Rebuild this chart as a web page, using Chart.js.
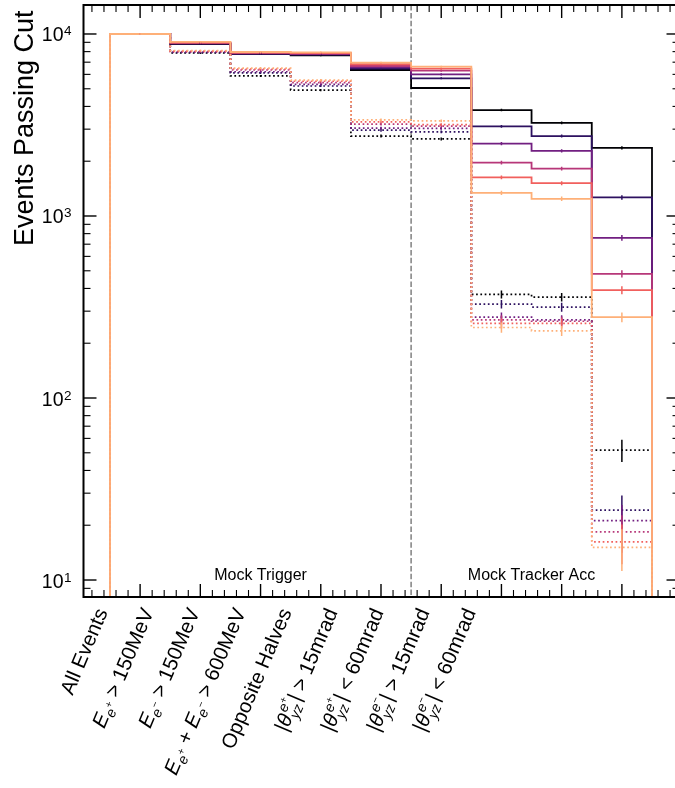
<!DOCTYPE html>
<html>
<head>
<meta charset="utf-8">
<script src="https://cdn.jsdelivr.net/npm/chart.js@4.4.1/dist/chart.umd.min.js"></script>
<style>
  html, body { margin: 0; padding: 0; background: #fff; }
  #wrap { width: 675px; height: 788px; }
</style>
</head>
<body>
<div id="wrap"><canvas id="cutflow" width="675" height="788"></canvas></div>
<script>
// Libellés des coupures (un par bin), avec indices / exposants
const cutLabels = [
    [{ t: 'All Events' }],
    [{ t: 'E', s: 'i' }, { t: 'e', s: 'sub' }, { t: '+', s: 'subsup' }, { t: ' > 150MeV' }],
    [{ t: 'E', s: 'i' }, { t: 'e', s: 'sub' }, { t: '\u2212', s: 'subsup' }, { t: ' > 150MeV' }],
    [{ t: 'E', s: 'i' }, { t: 'e', s: 'sub' }, { t: '+', s: 'subsup' }, { t: ' + ' },
     { t: 'E', s: 'i' }, { t: 'e', s: 'sub' }, { t: '\u2212', s: 'subsup' }, { t: ' > 600MeV' }],
    [{ t: 'Opposite Halves' }],
    [{ t: '|' }, { t: '\u03b8', s: 'i' }, { sup: 'e', supsup: '+', sub: 'yz' }, { t: '|' }, { t: ' > 15mrad' }],
    [{ t: '|' }, { t: '\u03b8', s: 'i' }, { sup: 'e', supsup: '+', sub: 'yz' }, { t: '|' }, { t: ' < 60mrad' }],
    [{ t: '|' }, { t: '\u03b8', s: 'i' }, { sup: 'e', supsup: '\u2212', sub: 'yz' }, { t: '|' }, { t: ' > 15mrad' }],
    [{ t: '|' }, { t: '\u03b8', s: 'i' }, { sup: 'e', supsup: '\u2212', sub: 'yz' }, { t: '|' }, { t: ' < 60mrad' }]
];

// Une couleur par configuration (palette magma)
const seriesColors = ['#000004', '#2d1160', '#721f81', '#b73779', '#f1605d', '#feb078'];

// Evénements passant chaque coupure - traits pleins
const solidCounts = [
    [10000, 8810, 7750, 7640, 6340, 5050, 3820, 3245, 2370],
    [10000, 8850, 7790, 7700, 6450, 5710, 3110, 2750, 1266],
    [10000, 8890, 7830, 7760, 6560, 6000, 2500, 2280, 759],
    [10000, 8930, 7870, 7810, 6670, 6290, 1965, 1820, 481],
    [10000, 8970, 7910, 7860, 6820, 6450, 1630, 1515, 391],
    [10000, 9040, 7960, 7920, 6960, 6610, 1340, 1243, 278]
];
const solidErrors = [
    [100, 94, 88, 87, 80, 71, 62, 57, 49],
    [100, 94, 88, 88, 80, 76, 56, 52, 36],
    [100, 94, 88, 88, 81, 77, 50, 48, 28],
    [100, 94, 89, 88, 82, 79, 44, 43, 22],
    [100, 95, 89, 89, 83, 80, 40, 39, 20],
    [100, 95, 89, 89, 83, 81, 37, 35, 17]
];

// Evénements passant chaque coupure - pointillés
const dottedCounts = [
    [10000, 7860, 5880, 4920, 2750, 2650, 371, 358, 51.7],
    [10000, 7910, 6110, 5180, 2960, 2900, 328, 316, 24.2],
    [10000, 7960, 6200, 5280, 3040, 3030, 278, 269, 21.2],
    [10000, 8010, 6340, 5400, 3200, 3120, 269, 264, 18.4],
    [10000, 8060, 6420, 5500, 3290, 3180, 257, 257, 16.2],
    [10000, 8110, 6500, 5580, 3370, 3330, 244, 234, 15.1]
];
const dottedErrors = [
    [100, 89, 77, 70, 52, 51, 19, 19, 7.2],
    [100, 89, 78, 72, 54, 54, 18, 18, 4.9],
    [100, 89, 79, 73, 55, 55, 17, 16, 4.6],
    [100, 89, 80, 73, 57, 56, 16, 16, 4.3],
    [100, 90, 80, 74, 57, 56, 16, 16, 4.0],
    [100, 90, 81, 75, 58, 58, 16, 15, 3.9]
];

// Séparation trigger / tracker et textes des régions
const regionNames = ['Mock Trigger', 'Mock Tracker Acc'];
const regionCenters = [2, 6.5];
const regionSplit = 4.5;
const regionTextY = 10;

const histFloor = 1; // base de l'histogramme (sous l'axe log)
const FONT = '"Liberation Sans", Arial, Helvetica, sans-serif';

// placement des libellés de coupure (en unités de bin)
const labelStart = -0.533;
const labelStep = 0.764;
const rightSpine = 8.957; // axe de droite, juste hors du cadre

// Points en escalier : bords des bins
function stepPoints(counts) {
    const pts = [{ x: -0.5, y: histFloor }];
    counts.forEach((v, i) => pts.push({ x: i - 0.5, y: v }));
    pts.push({ x: counts.length - 0.5, y: histFloor });
    return pts;
}

// Ordre de dessin : pour chaque couleur, trait plein puis pointillé
const series = [];
seriesColors.forEach((c, k) => {
    series.push({ color: c, counts: solidCounts[k], errors: solidErrors[k], dotted: false });
    series.push({ color: c, counts: dottedCounts[k], errors: dottedErrors[k], dotted: true });
});

const datasets = series.map((s, idx) => ({
    data: stepPoints(s.counts),
    borderColor: s.color,
    borderWidth: s.dotted ? 1.7 : 1.8,
    borderDash: s.dotted ? [1.7, 2.6] : [],
    borderCapStyle: 'butt',
    stepped: 'before',
    pointRadius: 0,
    fill: false,
    order: series.length - idx
}));

// Texte avec indices / exposants (façon mathtext)
function layoutRich(ctx, tokens, size) {
    const fnt = (it, sz) => (it ? 'italic ' : '') + sz.toFixed(1) + 'px ' + FONT;
    const pieces = [];
    let x = 0;
    for (const tk of tokens) {
        if (tk.sup !== undefined) {
            const f1 = fnt(true, size * 0.7), f2 = fnt(false, size * 0.5);
            ctx.font = f1;
            const wSup = ctx.measureText(tk.sup).width;
            const wSub = ctx.measureText(tk.sub).width;
            ctx.font = f2;
            const wSs = ctx.measureText(tk.supsup).width;
            pieces.push({ t: tk.sup, f: f1, x: x + size * 0.08, y: -size * 0.4 });
            pieces.push({ t: tk.supsup, f: f2, x: x + size * 0.08 + wSup, y: -size * 0.62 });
            pieces.push({ t: tk.sub, f: f1, x: x, y: size * 0.26 });
            x += Math.max(wSup + wSs + size * 0.08, wSub) + size * 0.05;
        } else {
            let f, dy = 0;
            if (tk.s === 'sub') { f = fnt(true, size * 0.7); dy = size * 0.22; }
            else if (tk.s === 'subsup') { f = fnt(false, size * 0.5); dy = -size * 0.1; }
            else f = fnt(tk.s === 'i', size);
            ctx.font = f;
            pieces.push({ t: tk.t, f: f, x: x, y: dy });
            x += ctx.measureText(tk.t).width;
        }
    }
    return { pieces, width: x };
}

const frameAndText = {
    id: 'frameAndText',
    beforeDatasetsDraw(chart) {
        const { ctx, chartArea: a, scales: { x, y } } = chart;
        ctx.save();
        // ligne de séparation
        const xs = x.getPixelForValue(regionSplit);
        ctx.strokeStyle = '#808080';
        ctx.lineWidth = 1.5;
        ctx.setLineDash([5.5, 2.4]);
        ctx.beginPath();
        ctx.moveTo(xs, a.top);
        ctx.lineTo(xs, a.bottom);
        ctx.stroke();
        ctx.setLineDash([]);
        ctx.fillStyle = '#000';
        ctx.font = '16px ' + FONT;
        ctx.textAlign = 'center';
        ctx.textBaseline = 'alphabetic';
        regionNames.forEach((n, i) => {
            ctx.fillText(n, x.getPixelForValue(regionCenters[i]), y.getPixelForValue(regionTextY));
        });
        ctx.restore();
    },
    afterDatasetsDraw(chart) {
        const { ctx, chartArea: a, scales: { x, y } } = chart;
        ctx.save();
        ctx.beginPath();
        ctx.rect(a.left, a.top, a.right - a.left, a.bottom - a.top);
        ctx.clip();
        // barres d'erreur au centre des bins
        ctx.lineWidth = 1.5;
        series.forEach(s => {
            ctx.strokeStyle = s.color;
            s.counts.forEach((v, i) => {
                const px = x.getPixelForValue(i);
                ctx.beginPath();
                ctx.moveTo(px, y.getPixelForValue(v - s.errors[i]));
                ctx.lineTo(px, y.getPixelForValue(v + s.errors[i]));
                ctx.stroke();
            });
        });
        ctx.restore();

        ctx.save();
        const xr = x.getPixelForValue(rightSpine);
        // cadre
        ctx.strokeStyle = '#000';
        ctx.lineWidth = 2;
        ctx.beginPath();
        ctx.moveTo(xr, a.top);
        ctx.lineTo(a.left, a.top);
        ctx.lineTo(a.left, a.bottom);
        ctx.lineTo(xr, a.bottom);
        ctx.stroke();

        // graduations vers l'intérieur
        const tick = (x0, y0, x1, y1, w) => {
            ctx.lineWidth = w;
            ctx.beginPath();
            ctx.moveTo(x0, y0);
            ctx.lineTo(x1, y1);
            ctx.stroke();
        };
        const MAJ = 13, MIN = 7;
        for (let k = -4; k <= 44; k++) {
            const v = k * 0.2;
            if (v < x.min || v > x.max) continue;
            const px = x.getPixelForValue(v);
            const major = k % 5 === 0;
            const L = major ? MAJ : MIN, w = major ? 1.4 : 1.1;
            tick(px, a.bottom, px, a.bottom - L, w);
            tick(px, a.top, px, a.top + L, w);
        }
        for (let d = 0; d <= 4; d++) {
            for (let m = 1; m <= 9; m++) {
                const v = m * Math.pow(10, d);
                if (v < y.min || v > y.max) continue;
                const py = y.getPixelForValue(v);
                const L = m === 1 ? MAJ : MIN, w = m === 1 ? 1.4 : 1.1;
                tick(a.left, py, a.left + L, py, w);
                tick(xr, py, xr - L, py, w);
            }
        }

        // étiquettes de l'axe y : 10^n
        ctx.fillStyle = '#000';
        ctx.textBaseline = 'alphabetic';
        for (let d = 1; d <= 4; d++) {
            const py = y.getPixelForValue(Math.pow(10, d));
            const xl = a.left - 20;
            ctx.font = '19.5px ' + FONT;
            ctx.textAlign = 'right';
            ctx.fillText('10', xl, py + 7.5);
            ctx.font = '13.5px ' + FONT;
            ctx.textAlign = 'left';
            ctx.fillText(String(d), xl + 0.5, py + 1.5);
        }

        // titre de l'axe y (aligné en haut)
        ctx.save();
        ctx.translate(33, 10.5);
        ctx.rotate(-Math.PI / 2);
        ctx.font = '27px ' + FONT;
        ctx.textAlign = 'right';
        ctx.fillText('Events Passing Cut', 0, 0);
        ctx.restore();

        // étiquettes des coupures, tournées
        const ang = 67 * Math.PI / 180;
        cutLabels.forEach((tokens, i) => {
            const lay = layoutRich(ctx, tokens, 20.5);
            ctx.save();
            ctx.translate(x.getPixelForValue(labelStart + i * labelStep), a.bottom + 15);
            ctx.rotate(-ang);
            ctx.textAlign = 'left';
            lay.pieces.forEach(p => {
                ctx.font = p.f;
                ctx.fillText(p.t, p.x - lay.width, p.y);
            });
            ctx.restore();
        });
        ctx.restore();
    }
};

const ctx = document.getElementById('cutflow').getContext('2d');
const chart = new Chart(ctx, {
    type: 'line',
    data: { datasets: datasets },
    options: {
        responsive: false,
        devicePixelRatio: 1,
        animation: false,
        events: [],
        layout: { padding: { left: 83.5, right: 0, top: 5, bottom: 191 } },
        scales: {
            x: { type: 'linear', min: -0.94, max: 8.882, display: false },
            y: { type: 'logarithmic', min: 8.066, max: 14430, display: false }
        },
        plugins: {
            legend: { display: false },
            tooltip: { enabled: false }
        }
    },
    plugins: [frameAndText]
});
</script>
</body>
</html>
